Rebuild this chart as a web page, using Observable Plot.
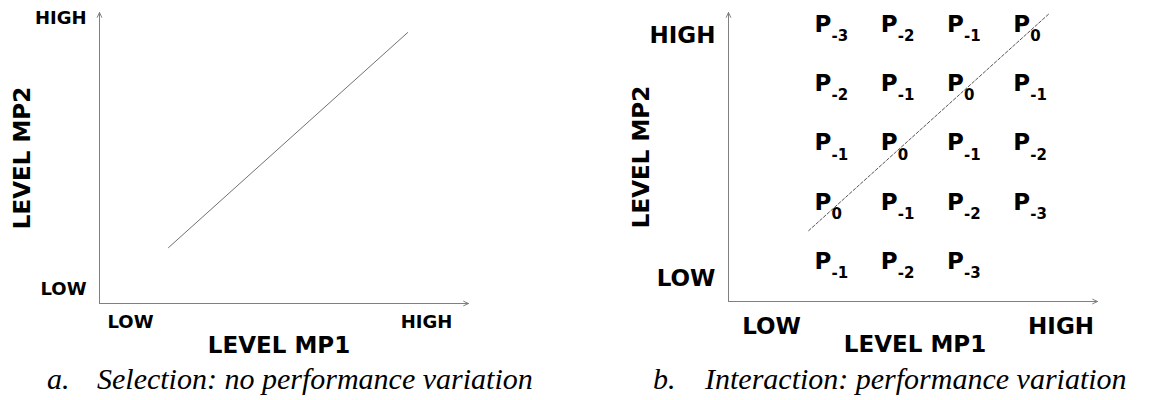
<!DOCTYPE html>
<html>
<head>
<meta charset="utf-8">
<script src="https://cdn.jsdelivr.net/npm/d3@7"></script>
<script src="https://cdn.jsdelivr.net/npm/@observablehq/plot@0.6"></script>
<style>
  html, body { margin: 0; padding: 0; background: #fff; }
  #wrap { position: relative; width: 1171px; height: 400px; overflow: hidden; }
  #left, #right { position: absolute; top: 0; }
  #left { left: 0; }
  #right { left: 585px; }
  .cap { position: absolute; top: 364px; left: 0; font-family: "Liberation Serif", "Times New Roman", serif;
         font-style: italic; font-size: 30px; line-height: 30px; color: #000; white-space: nowrap; }
  .cap span { position: absolute; top: 0; }
</style>
</head>
<body>
<div id="wrap">
  <div id="left"></div>
  <div id="right"></div>
  <div class="cap"><span style="left:47px">a.</span><span style="left:97px">Selection: no performance variation</span></div>
  <div class="cap"><span style="left:653px">b.</span><span style="left:705px">Interaction: performance variation</span></div>
</div>
<script>
// ---------- data ----------
// Panel a: selection line (MP1 level, MP2 level) in a 0..1 level space
const lineA_x = [0.187, 0.835];
const lineA_y = [0.192, 0.931];
const tickLabels = ["LOW", "HIGH"];
const ticksA_x = [0.084, 0.886];
const ticksA_y = [0.048, 0.979];

// Panel b: grid of performance levels
const mp1Levels = [1, 2, 3, 4];
const mp2Levels = [5, 4, 3, 2, 1];
const perf = [
  [-3, -2, -1, 0],
  [-2, -1, 0, -1],
  [-1, 0, -1, -2],
  [0, -1, -2, -3],
  [-1, -2, -3, null]
];
const diagB_x = [0.91, 4.53];
const diagB_y = [1.52, 5.17];
const ticksB_x = [0.35, 4.72];
const ticksB_y = [0.71, 4.81];
const xTitle = "LEVEL MP1";
const yTitle = "LEVEL MP2";

// ---------- helpers ----------
const FONT = "DejaVu Sans";
const AX = "#808080";

function axesArrows(xd, yd) {
  return Plot.arrow(
    [{x1: xd[0], y1: yd[0], x2: xd[1], y2: yd[0]}, {x1: xd[0], y1: yd[0], x2: xd[0], y2: yd[1]}],
    {x1: "x1", y1: "y1", x2: "x2", y2: "y2", stroke: AX, strokeWidth: 1, headLength: 8, headAngle: 50}
  );
}

function tickTexts(xPos, yPos, size, xdy, ydx) {
  const xt = xPos.map((v, i) => ({v, label: tickLabels[i]}));
  const yt = yPos.map((v, i) => ({v, label: tickLabels[i]}));
  return [
    Plot.text(xt, {x: "v", frameAnchor: "bottom", text: "label", dy: xdy, lineAnchor: "middle", textAnchor: "middle",
      fontSize: size, fontWeight: "bold", fontFamily: FONT, fill: "#000"}),
    Plot.text(yt, {y: "v", frameAnchor: "left", text: "label", dx: ydx, textAnchor: "end", lineAnchor: "middle",
      fontSize: size, fontWeight: "bold", fontFamily: FONT, fill: "#000"})
  ];
}

function titles(xdx, xdy, ydx) {
  return [
    Plot.text([xTitle], {frameAnchor: "bottom", dx: xdx, dy: xdy, lineAnchor: "middle", textAnchor: "middle",
      fontSize: 23, fontWeight: "bold", fontFamily: FONT, fill: "#000"}),
    Plot.text([yTitle], {frameAnchor: "left", dx: ydx, rotate: -90, lineAnchor: "middle", textAnchor: "middle",
      fontSize: 23, fontWeight: "bold", fontFamily: FONT, fill: "#000"})
  ];
}

// ---------- panel a ----------
const domA = [0, 1];
const plotA = Plot.plot({
  width: 585, height: 360,
  marginLeft: 99, marginRight: 117, marginTop: 12, marginBottom: 57,
  x: {domain: domA, axis: null},
  y: {domain: domA, axis: null},
  marks: [
    axesArrows(domA, domA),
    Plot.line(lineA_x.map((x, i) => ({x, y: lineA_y[i]})), {x: "x", y: "y", stroke: "#707070", strokeWidth: 1}),
    ...tickTexts(ticksA_x, ticksA_y, 18, 19, -13),
    ...titles(-5, 42, -77)
  ]
});
document.getElementById("left").append(plotA);

// ---------- panel b ----------
const cells = [];
mp2Levels.forEach((y, r) => mp1Levels.forEach((x, c) => {
  const v = perf[r][c];
  if (v !== null && v !== undefined) cells.push({x, y, sub: v === 0 ? "0" : "-" + Math.abs(v)});
}));
const xDomB = [-0.3, 5.27];
const yDomB = [0.325, 5.2];
const plotB = Plot.plot({
  width: 586, height: 360,
  marginLeft: 143, marginRight: 74, marginTop: 12, marginBottom: 59,
  x: {domain: xDomB, axis: null},
  y: {domain: yDomB, axis: null},
  marks: [
    axesArrows(xDomB, yDomB),
    Plot.line(diagB_x.map((x, i) => ({x, y: diagB_y[i]})), {x: "x", y: "y", stroke: "#555", strokeWidth: 1, strokeDasharray: "3,2"}),
    Plot.text(cells, {x: "x", y: "y", text: () => "P", textAnchor: "start", lineAnchor: "middle",
      fontSize: 23, fontWeight: "bold", fontFamily: FONT, fill: "#000"}),
    Plot.text(cells, {x: "x", y: "y", text: "sub", textAnchor: "start", lineAnchor: "middle", dx: 17, dy: 12,
      fontSize: 15, fontWeight: "bold", fontFamily: FONT, fill: "#000"}),
    ...tickTexts(ticksB_x, ticksB_y, 23, 25, -13),
    ...titles(2, 43, -87)
  ]
});
document.getElementById("right").append(plotB);
</script>
</body>
</html>
